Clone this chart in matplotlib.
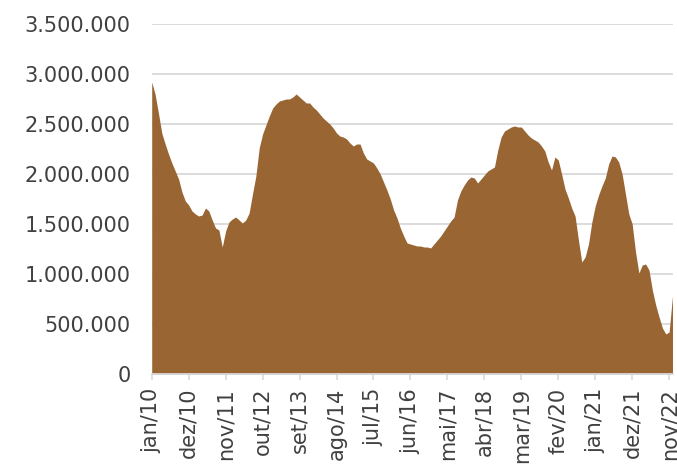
import matplotlib
matplotlib.use("Agg")
import matplotlib.pyplot as plt
from matplotlib.ticker import FuncFormatter, FixedLocator
import numpy as np

# Monthly series, jan/10 .. dez/22 (values in units)
months_pt = ["jan", "fev", "mar", "abr", "mai", "jun",
             "jul", "ago", "set", "out", "nov", "dez"]
start_year = 2010

values = [
    2920, 2800, 2610, 2410, 2300, 2200, 2110, 2030, 1950, 1820, 1730, 1690,  # 2010
    1630, 1600, 1580, 1590, 1660, 1630, 1540, 1460, 1440, 1270, 1430, 1520,  # 2011
    1550, 1570, 1540, 1510, 1540, 1610, 1800, 1980, 2260, 2400, 2490, 2580,  # 2012
    2660, 2700, 2730, 2740, 2750, 2750, 2770, 2800, 2770, 2740, 2710, 2710,  # 2013
    2670, 2640, 2600, 2560, 2530, 2500, 2460, 2410, 2380, 2370, 2350, 2310,  # 2014
    2280, 2300, 2300, 2210, 2150, 2130, 2110, 2060, 2000, 1920, 1840, 1750,  # 2015
    1640, 1560, 1460, 1380, 1310, 1300, 1290, 1280, 1280, 1270, 1270, 1260,  # 2016
    1300, 1340, 1380, 1430, 1480, 1530, 1570, 1740, 1830, 1890, 1940, 1970,  # 2017
    1960, 1910, 1950, 1990, 2030, 2050, 2070, 2240, 2370, 2430, 2450, 2470,  # 2018
    2480, 2470, 2470, 2430, 2390, 2360, 2340, 2320, 2280, 2230, 2120, 2040,  # 2019
    2170, 2140, 2000, 1850, 1760, 1660, 1580, 1340, 1120, 1170, 1300, 1520,  # 2020
    1680, 1790, 1880, 1960, 2100, 2180, 2170, 2120, 2000, 1800, 1600, 1500,  # 2021
    1220, 1010, 1090, 1100, 1040, 840, 690, 570, 460, 400, 420, 780,         # 2022
]
values = np.array(values) * 1000

labels = [f"{months_pt[i % 12]}/{(start_year + i // 12) % 100:02d}"
          for i in range(len(values))]

fill_color = "#986533"
grid_color = "#d9d9d9"
text_color = "#404040"

fig = plt.figure(figsize=(6.77, 4.69), dpi=100)
ax = fig.add_axes([151.7 / 677, 1 - 374 / 469, (672.5 - 151.7) / 677, 350 / 469])

x = np.arange(len(values))
ax.fill_between(x, values, 0, color=fill_color, linewidth=0)

ax.set_xlim(0, len(values) - 1)
ax.set_ylim(0, 3500000)

ax.set_yticks(np.arange(0, 3500001, 500000))
ax.yaxis.set_major_formatter(FuncFormatter(lambda v, p: f"{v:,.0f}".replace(",", ".")))
ax.grid(axis="y", color=grid_color, linewidth=1.3)
ax.set_axisbelow(True)

tick_pos = list(range(0, len(values), 11))
ax.xaxis.set_major_locator(FixedLocator(tick_pos))
ax.set_xticklabels([labels[i] for i in tick_pos], rotation=90)

for side in ["top", "right", "left"]:
    ax.spines[side].set_visible(False)
ax.spines["bottom"].set_color(grid_color)
ax.spines["bottom"].set_linewidth(1.3)

ax.tick_params(axis="y", length=0, pad=15, labelsize=15, labelcolor=text_color)
ax.tick_params(axis="x", length=4, width=1.2, color=grid_color, pad=6,
               labelsize=15, labelcolor=text_color)

fig.savefig("out.png", dpi=100)
